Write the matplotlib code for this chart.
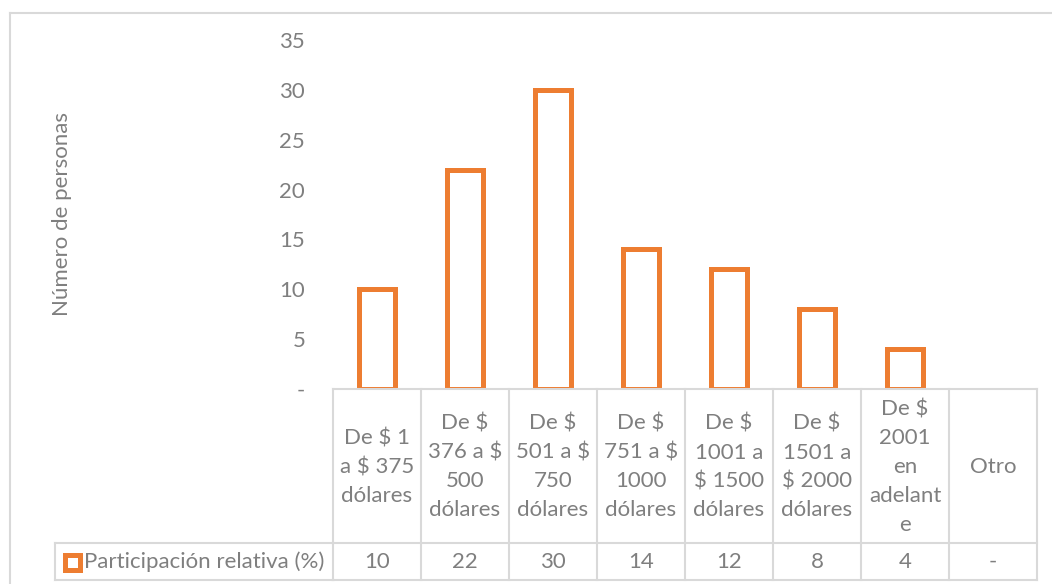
import matplotlib
matplotlib.use("Agg")
import matplotlib.pyplot as plt
from matplotlib.patches import Rectangle
from matplotlib.lines import Line2D
import matplotlib.transforms as mtransforms

plt.rcParams['font.family'] = ['Lato', 'DejaVu Sans']

categories = [
    "De $ 1\na $ 375\ndólares",
    "De $\n376 a $\n500\ndólares",
    "De $\n501 a $\n750\ndólares",
    "De $\n751 a $\n1000\ndólares",
    "De $\n1001 a\n$ 1500\ndólares",
    "De $\n1501 a\n$ 2000\ndólares",
    "De $\n2001\nen\nadelant\ne",
    "Otro",
]
values = [10, 22, 30, 14, 12, 8, 4, 0]
value_labels = ["10", "22", "30", "14", "12", "8", "4", "-"]
series_name = "Participación relativa (%)"
y_ticks = [0, 5, 10, 15, 20, 25, 30, 35]
y_tick_labels = ["-", "5", "10", "15", "20", "25", "30", "35"]
y_label = "Número de personas"

W, H = 1052, 584
ORANGE = "#ED7D31"
TEXT = "#7F7F7F"
GRID = "#D9D9D9"
FS = 16

fig = plt.figure(figsize=(W / 100, H / 100), dpi=100)

def fx(px):
    return px / W

def fy(py):
    return 1 - py / H

# plot area in pixel coordinates
left_px, right_px, top_px, base_px = 333, 1037, 40, 389
ax = fig.add_axes([fx(left_px), fy(base_px), fx(right_px - left_px), (base_px - top_px) / H])

n = len(categories)
xs = list(range(n))
# empty categories get no outline
edge_widths = [3.6 if v > 0 else 0 for v in values]
ax.bar(xs, values, width=0.42, facecolor="white", edgecolor=ORANGE,
       linewidth=edge_widths, zorder=3)
ax.set_xlim(-0.5, n - 0.5)
ax.set_ylim(0, 35)
ax.set_yticks(y_ticks)
ax.set_yticklabels(y_tick_labels)
ax.tick_params(axis='y', length=0, pad=20, labelsize=FS, labelcolor=TEXT)
ax.tick_params(axis='x', length=0, labelbottom=False)
for s in ax.spines.values():
    s.set_visible(False)

fig.text(fx(62), fy(214.5), y_label, rotation=90, ha='center', va='center',
         fontsize=FS, color=TEXT)

# data table under the plot
trans = mtransforms.blended_transform_factory(ax.transData, fig.transFigure)
row_top, row_mid, row_bot = 389, 543, 580
lw = 1.5
for i in range(n + 1):
    xpos = i - 0.5
    fig.add_artist(Line2D([xpos, xpos], [fy(row_top), fy(row_bot)], transform=trans,
                          color=GRID, lw=lw))
for ypx in (row_top, row_mid, row_bot):
    fig.add_artist(Line2D([-0.5, n - 0.5], [fy(ypx), fy(ypx)], transform=trans,
                          color=GRID, lw=lw))

for i, (cat, lab) in enumerate(zip(categories, value_labels)):
    fig.text(i, fy((row_top + row_mid) / 2 + 1), cat, transform=trans, ha='center',
             va='center', fontsize=FS, color=TEXT, linespacing=1.55)
    fig.text(i, fy((row_mid + row_bot) / 2), lab, transform=trans, ha='center',
             va='center', fontsize=FS, color=TEXT)

# legend cell of the table
leg_left = 55
fig.add_artist(Line2D([fx(leg_left), fx(left_px)], [fy(row_mid), fy(row_mid)],
                      transform=fig.transFigure, color=GRID, lw=lw))
fig.add_artist(Line2D([fx(leg_left), fx(left_px)], [fy(row_bot), fy(row_bot)],
                      transform=fig.transFigure, color=GRID, lw=lw))
fig.add_artist(Line2D([fx(leg_left), fx(leg_left)], [fy(row_mid), fy(row_bot)],
                      transform=fig.transFigure, color=GRID, lw=lw))
fig.add_artist(Rectangle((fx(64.5), fy(569.5)), fx(15), 15 / H, transform=fig.transFigure,
                         facecolor="white", edgecolor=ORANGE, lw=3.6))
fig.text(fx(84), fy((row_mid + row_bot) / 2), series_name, ha='left', va='center',
         fontsize=FS, color=TEXT)

# chart frame
fig.add_artist(Line2D([fx(10), fx(10)], [fy(13), 0], transform=fig.transFigure,
                      color=GRID, lw=1.5))
fig.add_artist(Line2D([fx(10), 1], [fy(13), fy(13)], transform=fig.transFigure,
                      color=GRID, lw=1.5))

fig.savefig("out.png", dpi=100, facecolor="white")
